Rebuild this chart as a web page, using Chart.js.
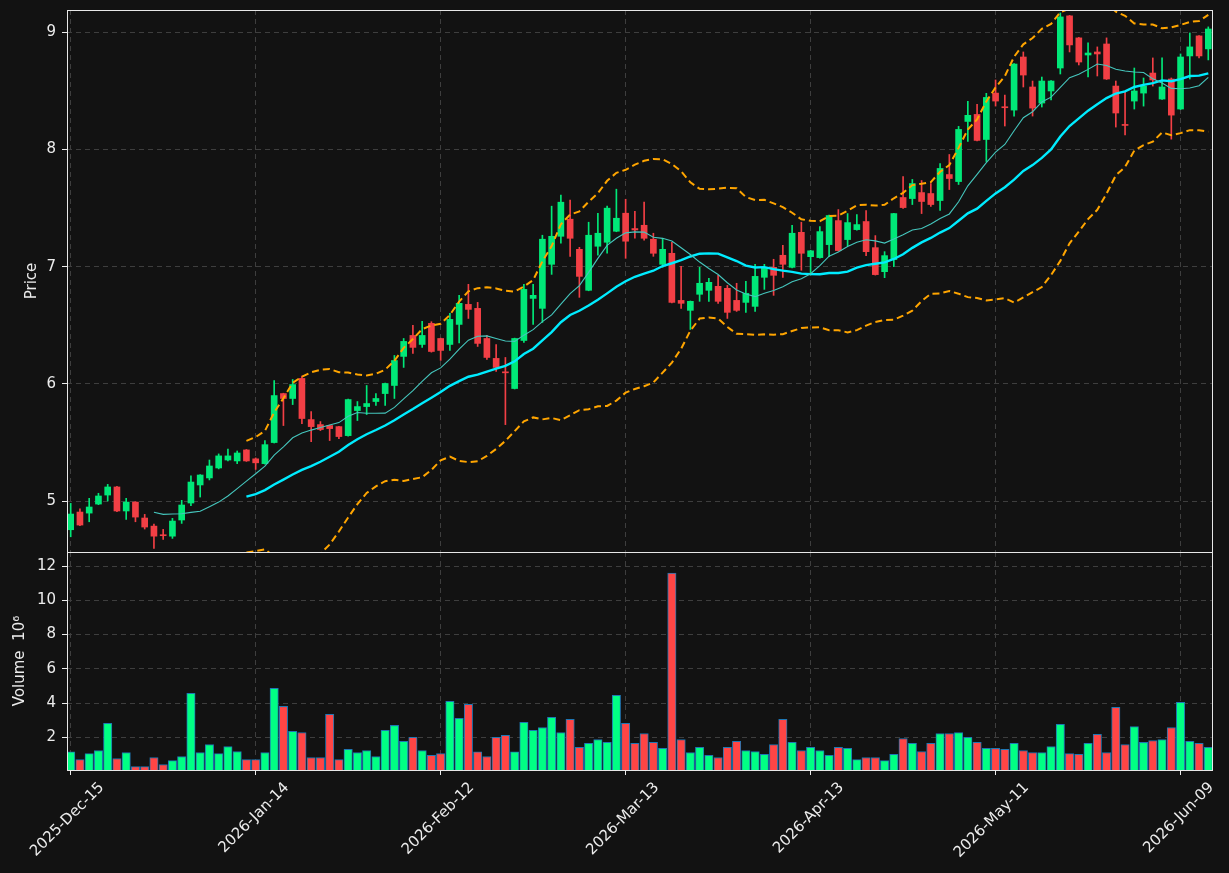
<!DOCTYPE html>
<html>
<head>
<meta charset="utf-8">
<script src="https://cdn.jsdelivr.net/npm/chart.js@4.4.1/dist/chart.umd.min.js"></script>
<style>
  html, body { margin: 0; padding: 0; background: #121212; }
  #wrap { position: relative; width: 1229px; height: 873px; }
  #priceBox { position: absolute; left: 0; top: 0; width: 1229px; height: 553px; }
  #volBox { position: absolute; left: 0; top: 552px; width: 1229px; height: 321px; }
</style>
</head>
<body>
<div id="wrap">
  <div id="priceBox"><canvas id="priceChart"></canvas></div>
  <div id="volBox"><canvas id="volChart"></canvas></div>
</div>
<script>
// tick positions (candle index) and their date labels
const tickIndex = [0, 20, 40, 60, 80, 100, 120];
const tickLabels = ['2025-Dec-15', '2026-Jan-14', '2026-Feb-12', '2026-Mar-13', '2026-Apr-13', '2026-May-11', '2026-Jun-09'];
const priceTicks = [5, 6, 7, 8, 9];
const volumeTicks = [2, 4, 6, 8, 10, 12];

// OHLC
const opens = [4.755, 4.906, 4.897, 4.974, 5.051, 5.12, 4.915, 4.991, 4.855, 4.786,
  4.707, 4.70, 4.838, 4.983, 5.137, 5.197, 5.282, 5.35, 5.342, 5.436,
  5.36, 5.319, 5.499, 5.917, 5.875, 6.046, 5.695, 5.652, 5.644, 5.635,
  5.558, 5.772, 5.806, 5.849, 5.917, 5.986, 6.234, 6.413, 6.336, 6.516,
  6.387, 6.336, 6.507, 6.678, 6.644, 6.387, 6.217, 6.10, 5.96, 6.37,
  6.729, 6.644, 7.02, 7.259, 7.405, 7.148, 6.798, 7.174, 7.208, 7.302,
  7.456, 7.325, 7.353, 7.234, 7.02, 7.114, 6.712, 6.627, 6.764, 6.798,
  6.832, 6.815, 6.712, 6.695, 6.661, 6.909, 6.994, 7.097, 6.994, 7.293,
  7.085, 7.077, 7.188, 7.393, 7.231, 7.316, 7.385, 7.162, 6.957, 7.06,
  7.59, 7.581, 7.632, 7.624, 7.564, 7.786, 7.726, 8.239, 8.299, 8.085,
  8.481, 8.362, 8.336, 8.789, 8.533, 8.396, 8.499, 8.695, 9.14, 8.952,
  8.806, 8.832, 8.90, 8.541, 8.211, 8.413, 8.481, 8.652, 8.43, 8.601,
  8.345, 8.798, 8.969, 8.858];
const highs = [4.98, 4.934, 5.023, 5.066, 5.142, 5.125, 5.023, 4.995, 4.886, 4.803,
  4.758, 4.852, 5.006, 5.214, 5.225, 5.35, 5.402, 5.444, 5.427, 5.44,
  5.368, 5.516, 6.028, 5.92, 6.037, 6.066, 5.764, 5.678, 5.648, 5.638,
  5.87, 5.849, 5.986, 5.917, 6.006, 6.242, 6.387, 6.499, 6.533, 6.53,
  6.39, 6.601, 6.755, 6.849, 6.695, 6.413, 6.336, 6.225, 6.39, 6.849,
  6.849, 7.268, 7.516, 7.61, 7.567, 7.165, 7.379, 7.456, 7.516, 7.661,
  7.575, 7.473, 7.55, 7.285, 7.242, 7.208, 7.003, 6.707, 6.994, 6.90,
  6.926, 6.84, 6.858, 6.875, 7.02, 7.02, 7.063, 7.182, 7.353, 7.379,
  7.14, 7.342, 7.44, 7.487, 7.453, 7.444, 7.479, 7.265, 7.128, 7.456,
  7.769, 7.744, 7.735, 7.709, 7.88, 7.957, 8.197, 8.41, 8.385, 8.479,
  8.593, 8.464, 8.733, 8.832, 8.584, 8.618, 8.588, 9.165, 9.144, 8.956,
  8.909, 8.875, 8.952, 8.584, 8.49, 8.695, 8.61, 8.781, 8.781, 8.61,
  8.815, 8.994, 8.972, 9.046];
const lows = [4.695, 4.79, 4.823, 4.969, 5.0, 4.91, 4.843, 4.823, 4.761, 4.595,
  4.672, 4.681, 4.809, 4.96, 5.034, 5.18, 5.274, 5.342, 5.319, 5.338,
  5.27, 5.315, 5.495, 5.644, 5.823, 5.661, 5.507, 5.601, 5.516, 5.533,
  5.554, 5.687, 5.738, 5.815, 5.815, 5.875, 6.14, 6.259, 6.311, 6.27,
  6.2, 6.285, 6.35, 6.558, 6.319, 6.208, 6.105, 5.652, 5.956, 6.353,
  6.507, 6.524, 6.934, 7.2, 7.088, 6.738, 6.794, 7.097, 7.114, 7.298,
  7.071, 7.242, 7.225, 7.088, 6.994, 6.69, 6.644, 6.464, 6.704, 6.704,
  6.687, 6.558, 6.618, 6.61, 6.618, 6.806, 6.755, 6.909, 6.99, 6.969,
  6.93, 7.073, 7.085, 7.133, 7.179, 7.312, 7.094, 6.928, 6.906, 7.0,
  7.496, 7.53, 7.453, 7.513, 7.479, 7.658, 7.701, 8.068, 8.073, 7.897,
  8.37, 8.2, 8.285, 8.533, 8.285, 8.362, 8.422, 8.644, 8.832, 8.721,
  8.618, 8.627, 8.597, 8.191, 8.123, 8.345, 8.37, 8.541, 8.426, 8.088,
  8.341, 8.601, 8.781, 8.764];
const closes = [4.889, 4.795, 4.949, 5.043, 5.12, 4.915, 4.991, 4.863, 4.778, 4.70,
  4.704, 4.829, 4.966, 5.162, 5.222, 5.299, 5.385, 5.385, 5.41, 5.342,
  5.326, 5.481, 5.90, 5.875, 5.994, 5.704, 5.635, 5.61, 5.618, 5.55,
  5.866, 5.806, 5.832, 5.875, 6.003, 6.199, 6.362, 6.311, 6.413, 6.276,
  6.285, 6.55, 6.687, 6.635, 6.345, 6.225, 6.14, 6.094, 6.387, 6.806,
  6.755, 7.234, 7.259, 7.55, 7.242, 6.917, 7.268, 7.285, 7.499, 7.413,
  7.217, 7.313, 7.242, 7.114, 7.148, 6.695, 6.687, 6.704, 6.858, 6.866,
  6.704, 6.61, 6.627, 6.772, 6.917, 6.986, 6.926, 7.02, 7.285, 7.114,
  7.135, 7.299, 7.436, 7.137, 7.376, 7.359, 7.128, 6.932, 7.094, 7.453,
  7.504, 7.709, 7.556, 7.53, 7.838, 7.752, 8.171, 8.291, 8.077, 8.444,
  8.413, 8.356, 8.729, 8.635, 8.353, 8.584, 8.584, 9.131, 8.892, 8.746,
  8.823, 8.815, 8.601, 8.311, 8.205, 8.499, 8.541, 8.593, 8.533, 8.293,
  8.789, 8.875, 8.798, 9.028];
// volume in millions
const volumes = [1.16, 0.71, 1.06, 1.24, 2.82, 0.77, 1.12, 0.30, 0.30, 0.83,
  0.42, 0.65, 0.89, 4.57, 1.12, 1.59, 1.06, 1.47, 1.18, 0.71,
  0.71, 1.12, 4.87, 3.81, 2.35, 2.29, 0.83, 0.83, 3.35, 0.71,
  1.30, 1.12, 1.24, 0.89, 2.41, 2.70, 1.77, 2.00, 1.24, 0.95,
  1.06, 4.11, 3.11, 3.93, 1.16, 0.89, 2.00, 2.12, 1.16, 2.88,
  2.41, 2.58, 3.17, 2.29, 3.05, 1.42, 1.65, 1.88, 1.71, 4.46,
  2.82, 1.65, 2.23, 1.71, 1.36, 11.59, 1.88, 1.12, 1.42, 0.95,
  0.83, 1.42, 1.77, 1.24, 1.18, 1.01, 1.59, 3.05, 1.71, 1.24,
  1.42, 1.24, 0.95, 1.42, 1.36, 0.71, 0.83, 0.83, 0.65, 1.01,
  1.94, 1.65, 1.18, 1.65, 2.23, 2.23, 2.29, 2.00, 1.71, 1.36,
  1.36, 1.30, 1.65, 1.24, 1.12, 1.12, 1.47, 2.76, 1.06, 1.01,
  1.65, 2.18, 1.12, 3.75, 1.59, 2.64, 1.71, 1.82, 1.88, 2.58,
  4.05, 1.77, 1.65, 1.42];

const UP = '#00e878';
const DOWN = '#f23f45';
const UP_VOL = '#00ff84';
const DOWN_VOL = '#ff4545';
const GRID = '#3e3e3e';
const TEXT = '#ececec';

Chart.defaults.font.family = "'DejaVu Sans', sans-serif";
Chart.defaults.font.size = 15;
Chart.defaults.color = TEXT;

const isUp = i => closes[i] >= opens[i];

// moving averages / bollinger bands from the closes
function rolling(arr, n, fn) {
  return arr.map((v, i) => i < n - 1 ? null : fn(arr.slice(i - n + 1, i + 1)));
}
const mean = a => a.reduce((s, v) => s + v, 0) / a.length;
const std = a => { const m = mean(a); return Math.sqrt(a.reduce((s, v) => s + (v - m) * (v - m), 0) / (a.length - 1)); };
const ma10 = rolling(closes, 10, mean);
const ma20 = rolling(closes, 20, mean);
const sd20 = rolling(closes, 20, std);
const bbUp = ma20.map((m, i) => m === null ? null : m + 2 * sd20[i]);
const bbLo = ma20.map((m, i) => m === null ? null : m - 2 * sd20[i]);

const pts = arr => arr.map((v, i) => ({x: i, y: v}));

// white frame round each panel
const framePlugin = {
  id: 'frame',
  afterDraw(chart) {
    const {ctx, chartArea: a} = chart;
    ctx.save();
    ctx.strokeStyle = '#e8e8e8';
    ctx.lineWidth = 1;
    ctx.strokeRect(a.left + 0.5, a.top + 0.5, a.right - a.left, a.bottom - a.top);
    ctx.restore();
  }
};

// drop the label overflow padding chart.js adds round the axes
function noPad(s) {
  s.paddingTop = 0;
  s.paddingBottom = 0;
  s.paddingLeft = 0;
  s.paddingRight = 0;
}

const xMin = -0.4;
const xMax = 123.4;

function xScale(showLabels) {
  return {
    type: 'linear',
    min: xMin,
    max: xMax,
    offset: false,
    afterBuildTicks: s => { s.ticks = tickIndex.map(v => ({value: v})); },
    afterFit: s => { s.height = showLabels ? 103 : 0; noPad(s); },
    border: {display: false, dash: [5, 4]},
    grid: {
      offset: false,
      color: GRID,
      lineWidth: 1,
      drawTicks: showLabels,
      tickLength: 5,
      tickColor: TEXT,
      tickBorderDash: []
    },
    ticks: {
      display: showLabels,
      autoSkip: false,
      maxRotation: 45,
      minRotation: 45,
      padding: 4,
      labelOffset: 31,
      callback: v => tickLabels[tickIndex.indexOf(v)]
    }
  };
}

function yScale(min, max, ticks, title, titlePad) {
  return {
    type: 'linear',
    min: min,
    max: max,
    afterBuildTicks: s => { s.ticks = ticks.map(v => ({value: v})); },
    afterFit: s => { s.width = 67; noPad(s); },
    border: {display: false, dash: [5, 4]},
    grid: {
      color: GRID,
      lineWidth: 1,
      tickLength: 5,
      tickColor: TEXT,
      tickBorderDash: []
    },
    ticks: {padding: 6},
    title: {display: true, text: title, padding: {top: titlePad, bottom: 0}}
  };
}

// price panel: candles as floating bars + lines
new Chart(document.getElementById('priceChart'), {
  data: {
    datasets: [
      {type: 'line', data: pts(ma10), borderColor: '#45c6bd', borderWidth: 1.1, pointRadius: 0, order: 0},
      {type: 'line', data: pts(ma20), borderColor: '#00ecff', borderWidth: 2.4, pointRadius: 0, order: 0},
      {type: 'line', data: pts(bbUp), borderColor: '#ffa500', borderWidth: 2, borderDash: [7, 4], pointRadius: 0, order: 0},
      {type: 'line', data: pts(bbLo), borderColor: '#ffa500', borderWidth: 2, borderDash: [7, 4], pointRadius: 0, order: 0},
      {
        type: 'bar',
        data: closes.map((c, i) => ({x: i, y: [opens[i], c]})),
        backgroundColor: ctx => isUp(ctx.dataIndex) ? UP : DOWN,
        barThickness: 6,
        minBarLength: 1,
        grouped: false,
        order: 1
      },
      {
        type: 'bar',
        data: closes.map((c, i) => ({x: i, y: [lows[i], highs[i]]})),
        backgroundColor: ctx => isUp(ctx.dataIndex) ? UP : DOWN,
        barThickness: 1,
        grouped: false,
        order: 2
      }
    ]
  },
  options: {
    responsive: true,
    maintainAspectRatio: false,
    animation: false,
    layout: {autoPadding: false, padding: {top: 10, right: 17, bottom: 1, left: 0}},
    plugins: {legend: {display: false}, tooltip: {enabled: false}},
    scales: {
      x: xScale(false),
      y: yScale(4.565, 9.19, priceTicks, 'Price', 23)
    }
  },
  plugins: [framePlugin]
});

// volume panel
new Chart(document.getElementById('volChart'), {
  type: 'bar',
  data: {
    datasets: [{
      data: volumes.map((v, i) => ({x: i, y: v})),
      backgroundColor: ctx => isUp(ctx.dataIndex) ? UP_VOL : DOWN_VOL,
      borderColor: '#1f77b4',
      borderWidth: 1,
      borderSkipped: false,
      barThickness: 8.4,
      grouped: false
    }]
  },
  options: {
    responsive: true,
    maintainAspectRatio: false,
    animation: false,
    layout: {autoPadding: false, padding: {top: 0, right: 17, bottom: 0, left: 0}},
    plugins: {legend: {display: false}, tooltip: {enabled: false}},
    scales: {
      x: xScale(true),
      y: yScale(0.1, 12.82, volumeTicks, 'Volume  10\u2076', 11)
    }
  },
  plugins: [framePlugin]
});
</script>
</body>
</html>
